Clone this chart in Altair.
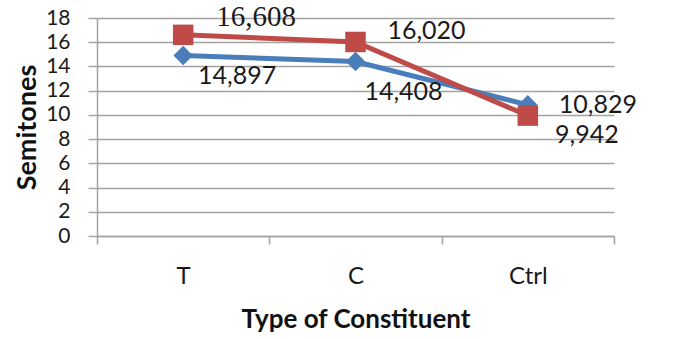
import altair as alt
import pandas as pd

categories = ["T", "C", "Ctrl"]
series_blue = [14.897, 14.408, 10.829]
series_red = [16.608, 16.020, 9.942]
labels_blue = ["14,897", "14,408", "10,829"]
labels_red = ["16,608", "16,020", "9,942"]

rows = []
for c, v, l in zip(categories, series_blue, labels_blue):
    rows.append({"cat": c, "val": v, "lab": l, "s": "blue"})
for c, v, l in zip(categories, series_red, labels_red):
    rows.append({"cat": c, "val": v, "lab": l, "s": "red"})
df = pd.DataFrame(rows)

BLUE = "#4a7ebb"
RED = "#be4b48"
GRID = "#a3a3a3"

x = alt.X("cat:N", sort=categories, bandPosition=0.5,
          scale=alt.Scale(type="band", paddingInner=0, paddingOuter=0),
          title="Type of Constituent",
          axis=alt.Axis(labelAngle=0, tickBand="extent", labelFont="Lato", labelFontSize=24,
                        labelColor="#1a1a1a", labelPadding=20, tickSize=8, tickColor=GRID,
                        tickWidth=1.5, domainColor=GRID, domainWidth=1.5, grid=False,
                        titleFont="Lato", titleFontSize=26, titleFontWeight="bold",
                        titleColor="#111111", titlePadding=18))
y = alt.Y("val:Q", scale=alt.Scale(domain=[0, 18], nice=False),
          title="Semitones",
          axis=alt.Axis(values=list(range(0, 19, 2)), labelFont="Lato", labelFontSize=21,
                        labelColor="#1a1a1a", labelPadding=18, tickSize=9, tickColor=GRID,
                        tickWidth=1.5, domainColor=GRID, domainWidth=1.5, gridColor=GRID,
                        gridWidth=1.5, titleFont="Lato", titleFontSize=27,
                        titleFontWeight="bold", titleColor="#111111", titlePadding=4))

base = alt.Chart(df).encode(x=x, y=y)
blue = base.transform_filter(alt.datum.s == "blue")
red = base.transform_filter(alt.datum.s == "red")

layers = [
    blue.mark_line(color=BLUE, strokeWidth=5),
    blue.mark_point(shape="diamond", filled=True, color=BLUE, size=380, opacity=1),
    red.mark_line(color=RED, strokeWidth=5),
    red.mark_point(shape="square", filled=True, color=RED, size=420, opacity=1),
]

offsets = {
    ("red", "T"): (73, -18, "Liberation Serif", 29),
    ("blue", "T"): (54, 20, "Lato", 25),
    ("red", "C"): (71, -11, "Lato", 25),
    ("blue", "C"): (48, 30, "Lato", 25),
    ("blue", "Ctrl"): (70, 0, "Lato", 25),
    ("red", "Ctrl"): (59, 19, "Lato", 25),
}
for (s, c), (dx, dy, font, fs) in offsets.items():
    layers.append(
        base.transform_filter((alt.datum.s == s) & (alt.datum.cat == c))
        .mark_text(dx=dx, dy=dy, align="center", baseline="middle", font=font,
                   fontSize=fs, color="#1a1a1a")
        .encode(text="lab:N")
    )

chart = alt.layer(*layers).properties(
    width=517, height=218,
    autosize=alt.AutoSizeParams(type="none"),
    padding={"left": 97, "top": 18, "right": 64, "bottom": 103},
    background="white",
).configure_view(stroke=None)

chart.save("out.html", embed_options={"renderer": "svg", "actions": False})
